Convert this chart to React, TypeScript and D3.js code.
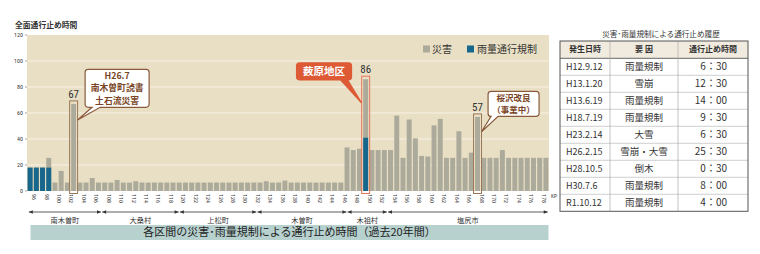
import React from 'react'
import * as d3 from 'd3'

const width = 760
const height = 254

// KP 96 .. 179, one bar per km
const kps = d3.range(96, 180)

// total closure hours per km (disaster + rain regulation)
const totalHours = [
  18, 18, 18, 25.5, 6.5, 15.5, 6.5, 67, 6.5, 6.5,
  10, 6.5, 6.5, 6.5, 8.5, 6.5, 6.5, 7.5, 6.5, 6.5,
  6.5, 6.5, 6.5, 6.5, 6.5, 6.5, 6.5, 6.5, 6.5, 6.5,
  6.5, 6.5, 6.5, 6.5, 6.5, 6.5, 6.5, 6.5, 7.5, 6.5,
  6.5, 8, 6.5, 6.5, 6.5, 6.5, 6.5, 6.5, 6.5, 6.5,
  6.5, 33.5, 31.5, 32.5, 86, 31.5, 31.5, 31.5, 31.5, 58,
  25.5, 55, 40.5, 27, 26.5, 50.5, 55.5, 25.5, 25.5, 46,
  25.5, 29.5, 57, 25.5, 25.5, 25.5, 31.5, 25.5, 25.5, 25.5,
  25.5, 25.5, 25.5, 25.5,
]

// rain regulation part
const rainKp = [96, 97, 98, 99, 150]
const rainHours = [18, 18, 18, 18, 41]

const yTicks = [0, 20, 40, 60, 80, 100, 120]
const xTickKp = d3.range(96, 180, 2)

const towns = ['南木曽町', '大桑村', '上松町', '木曽町', '木祖村', '塩尻市']
const townFrom = [95.7, 107.5, 120, 132.5, 147, 153.5]
const townTo = [107.5, 120, 132.5, 147, 153.5, 179.4]

const tblDates = ['H12.9.12', 'H13.1.20', 'H13.6.19', 'H18.7.19', 'H23.2.14', 'H26.2.15', 'H28.10.5', 'H30.7.6', 'R1.10.12']
const tblCauses = ['雨量規制', '雪崩', '雨量規制', '雨量規制', '大雪', '雪崩・大雪', '倒木', '雨量規制', '雨量規制']
const tblHours = ['6：30', '12：30', '14：00', '9：30', '6：30', '25：30', '0：30', '8：00', '4：00']

const jp = '"Noto Sans CJK JP", "Noto Sans", sans-serif'
const narrow = '"Liberation Sans Narrow", "Roboto Condensed", "Noto Sans", sans-serif'

const bg = '#e9dfc4'
const grayBar = '#acab9b'
const blueBar = '#17668c'
const brown = '#8a5a3a'
const brownText = '#7a4526'
const red = '#dd5a35'

// plot area
const left = 27
const right = 549
const top = 35
const bottom = 191

const x = d3.scaleBand<number>().domain(kps).range([left, right]).paddingInner(0.2).paddingOuter(0.1)
const kpX = d3.scaleLinear().domain([95.5, 179.5]).range([left, right])
const y = d3.scaleLinear().domain([0, 120]).range([bottom, top])

// callouts: anchor in data space
const callouts = [
  { kp: 103, lines: ['H26.7', '南木曽町読書', '土石流災害'], cx: 110, cy: 79, w: 64, h: 38, tail: [7, 15], side: 'right', tipV: 54.6, kind: 'brown', fs: 8.8, lh: 12.2 },
  { kp: 150, lines: ['薮原地区'], cx: 143.3, cy: 92, w: 55, h: 17, tail: [44, 51], side: 'left', tipV: 67.7, kind: 'red', fs: 10.5, lh: 0 },
  { kp: 168, lines: ['桜沢改良', '（事業中）'], cx: 173.8, cy: 67, w: 51, h: 25, tail: [3, 10], side: 'right', tipV: 45.6, kind: 'brown', fs: 8.5, lh: 12 },
]

function bubble(bx: number, by: number, w: number, h: number, r: number, t1: number, t2: number, tx: number, ty: number) {
  const b = by + h
  return `M${bx + r},${by} H${bx + w - r} A${r},${r} 0 0 1 ${bx + w},${by + r} V${b - r} A${r},${r} 0 0 1 ${bx + w - r},${b} H${bx + t2} L${tx},${ty} L${bx + t1},${b} H${bx + r} A${r},${r} 0 0 1 ${bx},${b - r} V${by + r} A${r},${r} 0 0 1 ${bx + r},${by} Z`
}

const Chart = () => {
  const bw = x.bandwidth()
  const rowH = 17
  const tx0 = 560
  const tCols = [560, 610, 678, 748]
  const tTop = 41

  return (
    <svg width={width} height={height} style={{ position: 'absolute', left: 0, top: 0, background: '#fff' }}>
      {/* y title */}
      <text x={15} y={28} fontFamily={jp} fontSize={7.8} fontWeight={700} fill="#333">全面通行止め時間</text>

      {/* plot background + grid */}
      <rect x={left} y={top} width={right - left} height={bottom - top} fill={bg} />
      {yTicks.filter(t => t > 0 && t < 120).map(t => (
        <line key={t} x1={left} x2={right} y1={y(t)} y2={y(t)} stroke="#f7f2e6" strokeWidth={1} />
      ))}
      {yTicks.map(t => (
        <g key={t}>
          <line x1={left - 2} x2={left} y1={y(t)} y2={y(t)} stroke="#666" strokeWidth={0.6} />
          <text x={left - 4} y={y(t)} dy="0.35em" textAnchor="end" fontFamily={narrow} fontSize={6} fill="#333">{t}</text>
        </g>
      ))}

      {/* bars */}
      {kps.map((k, i) => (
        <rect key={k} x={x(k)} y={y(totalHours[i])} width={bw} height={y(0) - y(totalHours[i])} fill={grayBar} />
      ))}
      {rainKp.map((k, i) => (
        <rect key={k} x={x(k)} y={y(rainHours[i])} width={bw} height={y(0) - y(rainHours[i])} fill={blueBar} />
      ))}

      {/* legend */}
      <rect x={423} y={45.5} width={7} height={7} fill={grayBar} />
      <text x={432} y={49} dy="0.35em" fontFamily={jp} fontSize={10} fill="#333">災害</text>
      <rect x={467} y={45.5} width={7} height={7} fill={blueBar} />
      <text x={477} y={49} dy="0.35em" fontFamily={jp} fontSize={10} fill="#333">雨量通行規制</text>

      {/* highlighted bars + callouts */}
      {callouts.map(c => {
        const i = kps.indexOf(c.kp)
        const v = totalHours[i]
        const hx = (x(c.kp) as number) - 1.5
        const hy = y(v) - 3
        const stroke = c.kind === 'red' ? '#e8735a' : '#9a7656'
        const bxx = kpX(c.cx) - c.w / 2
        const byy = y(c.cy) - c.h / 2
        const tipX = c.side === 'right' ? hx + bw + 3 : hx
        const tipY = y(c.tipV)
        const n = c.lines.length
        return (
          <g key={c.kp}>
            <rect x={hx} y={hy} width={bw + 3} height={y(0) + 2.5 - hy} fill="none" stroke={stroke} strokeWidth={1} />
            <text x={hx + (bw + 3) / 2} y={hy - 3} textAnchor="middle" fontFamily={narrow} fontSize={11} fill="#333">{v}</text>
            <path d={bubble(bxx, byy, c.w, c.h, 3, c.tail[0], c.tail[1], tipX, tipY)}
              fill={c.kind === 'red' ? red : '#fff'} stroke={c.kind === 'red' ? red : brown} strokeWidth={1.2} />
            {c.lines.map((l, j) => (
              <text key={j} x={bxx + c.w / 2} y={byy + c.h / 2 + (j - (n - 1) / 2) * c.lh} dy="0.36em" textAnchor="middle"
                fontFamily={jp} fontSize={c.fs} fontWeight={700} fill={c.kind === 'red' ? '#fff' : brownText}>{l}</text>
            ))}
          </g>
        )
      })}

      {/* x tick labels */}
      {xTickKp.map(k => (
        <text key={k} transform={`translate(${kpX(k) + 2},${bottom + 3}) rotate(90)`} fontFamily={narrow} fontSize={6} fill="#333">{k}</text>
      ))}
      <text x={551} y={198} fontFamily={narrow} fontSize={5.5} fill="#333">KP</text>

      {/* town ranges */}
      {towns.map((t, i) => {
        const a = kpX(townFrom[i]) + 0.6
        const b = kpX(townTo[i]) - 0.6
        const yy = 212
        return (
          <g key={t}>
            <line x1={a} x2={b} y1={yy} y2={yy} stroke="#333" strokeWidth={0.8} />
            <path d={`M${a},${yy} l4,-1.8 v3.6 Z`} fill="#333" />
            <path d={`M${b},${yy} l-4,-1.8 v3.6 Z`} fill="#333" />
            <text x={(a + b) / 2} y={220} dy="0.35em" textAnchor="middle" fontFamily={jp} fontSize={7.2} fill="#333">{t}</text>
          </g>
        )
      })}

      {/* bottom title */}
      <rect x={30.5} y={225} width={518} height={15} fill="#b7d1cf" />
      <text x={289.5} y={232.5} dy="0.36em" textAnchor="middle" fontFamily={jp} fontSize={11} fill="#222">各区間の災害･雨量規制による通行止め時間（過去20年間）</text>

      {/* history table */}
      <text x={661} y={34} dy="0.35em" textAnchor="middle" fontFamily={jp} fontSize={7.6} fill="#333">災害･雨量規制による通行止め履歴</text>
      <rect x={tx0} y={tTop} width={tCols[3] - tx0} height={rowH} fill="#f1ebdf" />
      {['発生日時', '要 因', '通行止め時間'].map((h, i) => (
        <text key={h} x={(tCols[i] + tCols[i + 1]) / 2} y={tTop + rowH / 2} dy="0.36em" textAnchor="middle"
          fontFamily={jp} fontSize={8} fontWeight={700} fill="#333">{h}</text>
      ))}
      {tblDates.map((d, i) => {
        const ry = tTop + rowH * (i + 1) + 0.3
        return (
          <g key={d}>
            <line x1={tx0} x2={tCols[3]} y1={ry} y2={ry} stroke={i === 0 ? '#666' : '#bbb'} strokeWidth={i === 0 ? 1 : 0.7} />
            <text x={566} y={ry + rowH / 2} dy="0.36em" fontFamily={jp} fontSize={9} fill="#333">{d}</text>
            <text x={(tCols[1] + tCols[2]) / 2} y={ry + rowH / 2} dy="0.36em" textAnchor="middle" fontFamily={jp} fontSize={9.5} fill="#333">{tblCauses[i]}</text>
            <text x={727} y={ry + rowH / 2} dy="0.36em" textAnchor="end" fontFamily={jp} fontSize={10} fill="#333">{tblHours[i]}</text>
          </g>
        )
      })}
      {[tCols[1], tCols[2]].map(cx => (
        <line key={cx} x1={cx} x2={cx} y1={tTop} y2={tTop + rowH * 10 + 0.3} stroke="#aaa" strokeWidth={0.7} />
      ))}
      <rect x={tx0} y={tTop} width={tCols[3] - tx0} height={rowH * 10 + 0.3} fill="none" stroke="#555" strokeWidth={1} />
    </svg>
  )
}

export default function App() {
  return <Chart />
}
